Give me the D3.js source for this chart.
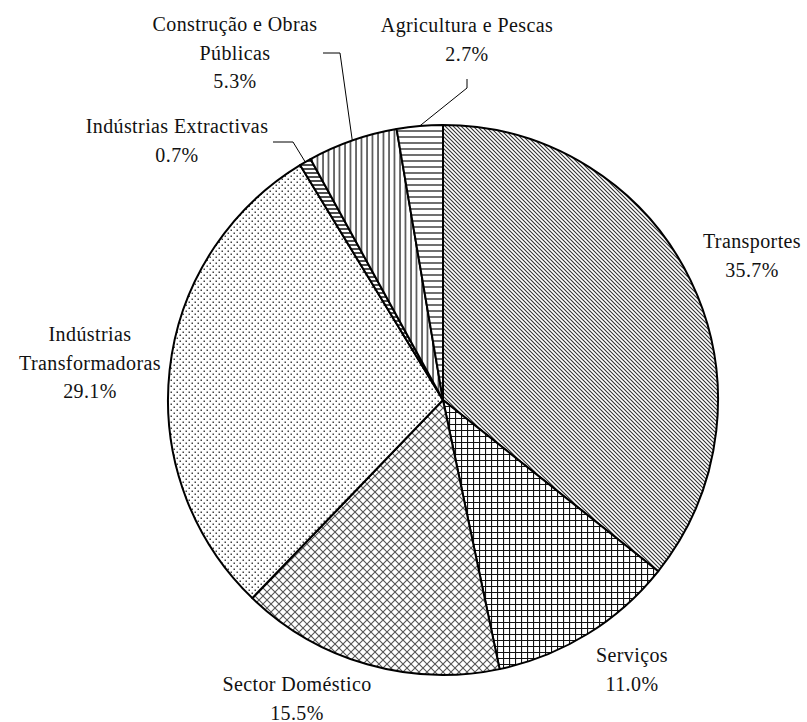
<!DOCTYPE html>
<html>
<head>
<meta charset="utf-8">
<script src="https://cdn.jsdelivr.net/npm/d3@7"></script>
<style>
  html, body { margin: 0; padding: 0; background: #fff; }
  svg { display: block; }
</style>
</head>
<body>
<svg id="chart" width="807" height="722"></svg>
<script>
const sectors = [
  "Transportes",
  "Serviços",
  "Sector Doméstico",
  "Indústrias Transformadoras",
  "Indústrias Extractivas",
  "Construção e Obras Públicas",
  "Agricultura e Pescas"
];
const shares = [35.7, 11.0, 15.5, 29.1, 0.7, 5.3, 2.7];
const labelLines = [
  ["Transportes"],
  ["Serviços"],
  ["Sector Doméstico"],
  ["Indústrias", "Transformadoras"],
  ["Indústrias Extractivas"],
  ["Construção e Obras", "Públicas"],
  ["Agricultura e Pescas"]
];

// layout (label anchor = centre x, first baseline y)
const labelAnchors = [[752, 248], [632, 662], [297, 691], [90, 341], [177, 133], [235, 31], [467, 32]];
const leaders = { 4: [[273, 142], [293, 142]], 5: [[323, 53], [340, 53]], 6: [[467, 79], [467, 88]] };
const patternIds = ["pDiag", "pGrid", "pCross", "pDots", "pHoriz2", "pVert", "pHoriz"];
const cx = 443, cy = 400, radius = 275, lineH = 28.5;
const FONT = "'Liberation Serif', Tinos, 'Times New Roman', Times, 'DejaVu Serif', serif";

const svg = d3.select("#chart");
const defs = svg.append("defs");

function pattern(id, w, h) {
  const p = defs.append("pattern").attr("id", id)
    .attr("patternUnits", "userSpaceOnUse").attr("width", w).attr("height", h);
  p.append("rect").attr("width", w).attr("height", h).attr("fill", "#fff");
  return p;
}

// dense "\" diagonal lines
let p = pattern("pDiag", 4, 4);
p.append("path").attr("d", "M-1,-1 L5,5 M-1,3 L1,5 M3,-1 L5,1").attr("stroke", "#333").attr("stroke-width", 1.1);

// square grid
p = pattern("pGrid", 6, 6);
p.append("path").attr("d", "M0,0.5 H6 M0.5,0 V6").attr("stroke", "#111").attr("stroke-width", 1.2);

// diagonal cross hatch
p = pattern("pCross", 8, 8);
p.append("path").attr("d", "M0,0 L8,8 M8,0 L0,8").attr("stroke", "#555").attr("stroke-width", 1.1);

// dots
p = pattern("pDots", 6, 6);
p.append("rect").attr("x", 0.5).attr("y", 0.5).attr("width", 1.5).attr("height", 1.5).attr("fill", "#444");
p.append("rect").attr("x", 3.5).attr("y", 3.5).attr("width", 1.5).attr("height", 1.5).attr("fill", "#444");

// tight horizontal bars
p = pattern("pHoriz2", 4, 4);
p.append("path").attr("d", "M0,1 H4").attr("stroke", "#222").attr("stroke-width", 1.6);

// vertical lines
p = pattern("pVert", 5.5, 5.5);
p.append("path").attr("d", "M1,0 V5.5").attr("stroke", "#222").attr("stroke-width", 1.3);

// horizontal lines
p = pattern("pHoriz", 6, 6);
p.append("path").attr("d", "M0,1 H6").attr("stroke", "#222").attr("stroke-width", 1.3);

const pie = d3.pie().sort(null).value((d) => d);
const arcs = pie(shares);
const arc = d3.arc().innerRadius(0).outerRadius(radius);

const g = svg.append("g").attr("transform", `translate(${cx},${cy})`);
g.selectAll("path")
  .data(arcs)
  .join("path")
  .attr("d", arc)
  .attr("fill", (d, i) => `url(#${patternIds[i]})`)
  .attr("stroke", "#000")
  .attr("stroke-width", 2)
  .attr("stroke-linejoin", "round");

// leader lines for the thin slices
Object.entries(leaders).forEach(([i, pts]) => {
  const a = arcs[+i];
  const mid = (a.startAngle + a.endAngle) / 2;
  const end = [cx + radius * Math.sin(mid), cy - radius * Math.cos(mid)];
  svg.append("path")
    .attr("d", d3.line()(pts.concat([end])))
    .attr("fill", "none")
    .attr("stroke", "#000")
    .attr("stroke-width", 1);
});

// labels
sectors.forEach((name, i) => {
  const [x, y] = labelAnchors[i];
  const lines = labelLines[i].concat([shares[i].toFixed(1) + "%"]);
  const t = svg.append("text")
    .attr("font-family", FONT)
    .attr("font-size", 20)
    .attr("letter-spacing", 0.4)
    .attr("fill", "#111")
    .attr("text-anchor", "middle");
  lines.forEach((ln, k) => {
    t.append("tspan").attr("x", x).attr("y", y + k * lineH).text(ln);
  });
});
</script>
</body>
</html>
